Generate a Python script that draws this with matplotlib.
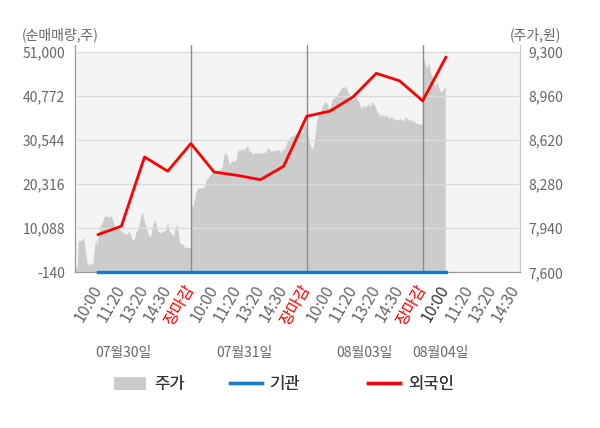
import matplotlib
matplotlib.use('Agg')
import matplotlib.pyplot as plt
from matplotlib.patches import Patch
from matplotlib.lines import Line2D
from matplotlib.transforms import blended_transform_factory

plt.rcParams['font.family'] = ['Noto Sans CJK KR', 'DejaVu Sans']

# x축 라벨 (5칸 = 하루)
tick_labels = ['10:00', '11:20', '13:20', '14:30', '장마감',
               '10:00', '11:20', '13:20', '14:30', '장마감',
               '10:00', '11:20', '13:20', '14:30', '장마감',
               '10:00', '11:20', '13:20', '14:30']
day_labels = ['07월30일', '07월31일', '08월03일', '08월04일']
day_label_x = [2.1, 7.3, 12.5, 15.75]
day_edges = [5, 10, 15]

left_ticks = [-140, 10088, 20316, 30544, 40772, 51000]
right_ticks = [7600, 7940, 8280, 8620, 8960, 9300]

# 순매매량 (장중 시점별)
flow_x = [1, 2, 3, 4, 5, 6, 7, 8, 9, 10, 11, 12, 13, 14, 15, 16]
foreign = [8615, 10545, 26588, 23300, 29703, 23100, 22333, 21333,
           24425, 36050, 37213, 40538, 45978, 44258, 39608, 49698]
institution = [0, 0, 0, 0, 0, 0, 0, 0, 0, 0, 0, 0, 0, 0, 0, 0]

# 주가 (분 단위 근사)
price_x = [0.0, 0.1, 0.13, 0.3, 0.37, 0.45, 0.52, 0.62, 0.69, 0.75, 0.79, 0.85,
           0.89, 0.96, 1.02, 1.11, 1.19, 1.28, 1.38, 1.48, 1.57, 1.64, 1.71, 1.81,
           1.91, 2.03, 2.13, 2.21, 2.29, 2.37, 2.46, 2.54, 2.63, 2.73, 2.82, 2.89,
           2.95, 3.02, 3.11, 3.19, 3.26, 3.35, 3.44, 3.51, 3.58, 3.68, 3.78, 3.9,
           4.0, 4.07, 4.16, 4.24, 4.31, 4.39, 4.46, 4.52, 4.64, 4.73, 4.98,
           5.0, 5.08, 5.15, 5.19, 5.25, 5.33, 5.44, 5.51, 5.58, 5.65, 5.72, 5.8,
           5.87, 5.94, 6.08, 6.2, 6.3, 6.37, 6.44, 6.51, 6.59, 6.66, 6.73, 6.8,
           6.87, 6.95, 7.02, 7.09, 7.16, 7.23, 7.3, 7.38, 7.45, 7.52, 7.59, 7.66,
           7.74, 7.84, 7.95, 8.07, 8.17, 8.24, 8.31, 8.39, 8.49, 8.57, 8.67, 8.76,
           8.84, 8.9, 8.96, 9.03, 9.1, 9.17, 9.25, 9.32, 9.39, 9.46, 9.53, 9.61,
           9.68, 9.75, 9.82, 9.89, 9.96,
           10.0, 10.02, 10.08, 10.15, 10.22, 10.3, 10.34, 10.4, 10.44, 10.51,
           10.58, 10.66, 10.73, 10.8, 10.87, 10.94, 11.02, 11.09, 11.16, 11.23,
           11.3, 11.37, 11.45, 11.52, 11.59, 11.66, 11.73, 11.81, 11.88, 11.95,
           12.02, 12.09, 12.17, 12.24, 12.31, 12.38, 12.45, 12.53, 12.6, 12.67,
           12.74, 12.81, 12.89, 12.96, 13.03, 13.1, 13.17, 13.24, 13.32, 13.39,
           13.46, 13.53, 13.6, 13.68, 13.75, 13.82, 13.89, 13.96, 14.04, 14.11,
           14.18, 14.25, 14.32, 14.4, 14.47, 14.54, 14.61, 14.68, 14.75, 14.83,
           14.9, 14.97,
           15.0, 15.06, 15.12, 15.19, 15.23, 15.29, 15.34, 15.4, 15.47, 15.55,
           15.62, 15.69, 15.76, 15.83, 15.91, 15.97]
price = [7640, 7640, 7841, 7849, 7869, 7759, 7669, 7656, 7674, 7648, 7707, 7810,
         7854, 7810, 7900, 7964, 7990, 8041, 8028, 8028, 8034, 7990, 7957, 7946,
         7933, 7913, 7900, 7887, 7913, 7905, 7861, 7844, 7913, 7931, 8016, 8067,
         8028, 7972, 7921, 7887, 7874, 7964, 8008, 7964, 7913, 7905, 7913, 7926,
         7982, 7913, 7905, 7874, 7931, 7972, 7905, 7823, 7818, 7792, 7792,
         8126, 8106, 8157, 8203, 8234, 8255, 8247, 8260, 8247, 8311, 8324, 8342,
         8363, 8368, 8375, 8393, 8393, 8427, 8522, 8517, 8491, 8427, 8452, 8465,
         8452, 8470, 8555, 8530, 8555, 8542, 8542, 8563, 8573, 8530, 8537, 8504,
         8522, 8517, 8522, 8517, 8530, 8517, 8563, 8542, 8530, 8542, 8537, 8547,
         8537, 8517, 8555, 8542, 8581, 8614, 8632, 8645, 8650, 8658, 8671, 8676,
         8691, 8676, 8671, 8735, 8745,
         8709, 8684, 8632, 8581, 8555, 8581, 8632, 8722, 8786, 8812,
         8838, 8876, 8902, 8915, 8902, 8864, 8876, 8928, 8941, 8953,
         8966, 8984, 9010, 9030, 9025, 9036, 9010, 8979, 8953, 8928,
         8941, 8953, 8933, 8915, 8876, 8864, 8889, 8871, 8889, 8897,
         8876, 8915, 8902, 8876, 8838, 8825, 8799, 8820, 8799, 8812,
         8804, 8786, 8799, 8799, 8774, 8786, 8774, 8774, 8786, 8768,
         8774, 8799, 8786, 8768, 8786, 8761, 8774, 8753, 8748, 8743,
         8743, 8735,
         9236, 9241, 9197, 9172, 9215, 9197, 9133, 9120, 9056, 9030,
         9069, 9030, 8992, 8992, 9018, 9030]

GRAY_TXT = '#666666'
BLUE = '#0a7fd0'
RED = '#ff0000'

fig = plt.figure(figsize=(6, 4.28), dpi=100)
ax_p = fig.add_axes([75 / 600, 1 - 272.3 / 428, 445 / 600, (272.3 - 45) / 428])
ax_v = ax_p.twinx()

# 주가 (오른쪽 축)
ax_p.axhspan(right_ticks[0], right_ticks[-1], color='#f4f4f4', lw=0, zorder=0)
ax_p.fill_between(price_x, right_ticks[0], price, color='#cccccc', lw=0, zorder=1)
ax_p.set_ylim(7600, 9351.6)
ax_p.set_xlim(0, 19.2)
ax_p.yaxis.tick_right()
ax_p.set_yticks(right_ticks)
ax_p.set_yticklabels([f'{v:,}' for v in right_ticks])
ax_p.tick_params(axis='y', length=0, pad=6, labelsize=10, labelcolor=GRAY_TXT)

tick_pos = list(range(1, len(tick_labels) + 1))
ax_p.set_xticks(tick_pos)
ax_p.set_xticklabels(tick_labels, rotation=60, ha='right', va='center',
                     rotation_mode='anchor')
ax_p.tick_params(axis='x', which='major', length=0, pad=10, labelsize=11.5)
ax_p.set_xticks(day_edges, minor=True)
ax_p.tick_params(axis='x', which='minor', length=6, width=1, color='#8c8c8c')
for lbl, txt in zip(ax_p.get_xticklabels(), tick_labels):
    lbl.set_color('red' if txt == '장마감' else GRAY_TXT)
ax_p.get_xticklabels()[15].set_color('#333333')

# 순매매량 (왼쪽 축)
ax_v.set_ylim(-140, 52553)
ax_v.yaxis.tick_left()
ax_v.set_yticks(left_ticks)
ax_v.set_yticklabels([f'{v:,}' for v in left_ticks])
ax_v.tick_params(axis='y', length=0, pad=7, labelsize=10, labelcolor=GRAY_TXT)
ax_v.yaxis.grid(True, color='#dcdcdc', lw=1)
for e in day_edges:
    ax_v.axvline(e, color='#8c8c8c', lw=1, zorder=1.8)
ax_v.plot(flow_x, institution, color=BLUE, lw=2.4, zorder=5, clip_on=False)
ax_v.plot(flow_x, foreign, color=RED, lw=2, zorder=4)

for a in (ax_p, ax_v):
    a.spines['top'].set_visible(False)
    a.spines['left'].set_color('#999999')
    a.spines['right'].set_color('#cccccc')
    a.spines['bottom'].set_color('#999999')

trans = blended_transform_factory(ax_p.transData, fig.transFigure)
for x, t in zip(day_label_x, day_labels):
    ax_p.text(x, 1 - 353 / 428, t, transform=trans, ha='center', va='center',
              fontsize=10, color=GRAY_TXT)

fig.text(22 / 600, 1 - 35 / 428, '(순매매량,주)', ha='left', va='center',
         fontsize=10, color=GRAY_TXT)
fig.text(561 / 600, 1 - 35 / 428, '(주가,원)', ha='right', va='center',
         fontsize=10, color=GRAY_TXT)

# 범례: 항목별로 위치 지정
legend_items = [
    (Patch(facecolor='#cccccc', edgecolor='none'), '주가', 114),
    (Line2D([], [], color=BLUE, lw=2.4), '기관', 230),
    (Line2D([], [], color=RED, lw=2.4), '외국인', 368),
]
for handle, label, x0 in legend_items:
    leg = fig.legend([handle], [label], loc='center left',
                     bbox_to_anchor=(x0 / 600, 1 - 385 / 428), frameon=False,
                     fontsize=12, handlelength=1.92, handleheight=0.85,
                     handletextpad=0.5, borderpad=0, borderaxespad=0,
                     labelcolor='#333333')
    fig.add_artist(leg)

fig.savefig('out.png', dpi=100)
